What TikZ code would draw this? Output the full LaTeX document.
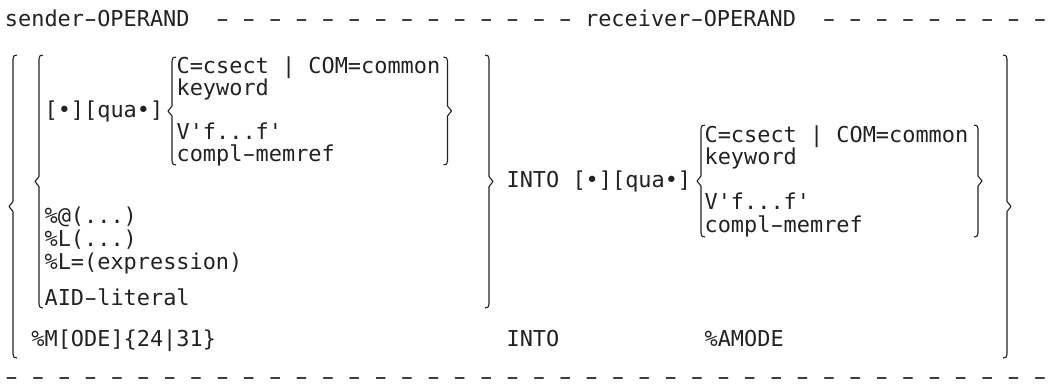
\documentclass[tikz,border=0pt]{standalone}
\usepackage{fontspec}
\usepackage{graphicx}
\newfontfamily\mono{DejaVu Sans Mono}
\definecolor{ink}{HTML}{222222}
\newcommand\hy{\makebox[0.602em]{\scalebox{1.7}[1]{-}}}
\newcommand\dd{\hy~}
% opening brace: x, ytop, ymid, ybot
\newcommand\obrc[4]{%
 \draw[brk] ({#1+4},#2) .. controls ({#1+1},#2) and (#1,{#2+1}) .. (#1,{#2+4}) -- (#1,{#3-5}) -- ({#1-4},#3) -- (#1,{#3+5}) -- (#1,{#4-4}) .. controls (#1,{#4-1}) and ({#1+1},#4) .. ({#1+4},#4);}
% closing brace: x, ytop, ymid, ybot
\newcommand\cbrc[4]{%
 \draw[brk] ({#1-4},#2) .. controls ({#1-1},#2) and (#1,{#2+1}) .. (#1,{#2+4}) -- (#1,{#3-5}) -- ({#1+4},#3) -- (#1,{#3+5}) -- (#1,{#4-4}) .. controls (#1,{#4-1}) and ({#1-1},#4) .. ({#1-4},#4);}
\newcommand\cx[1]{5+#1*13.2}
\begin{document}
\begin{tikzpicture}[x=1pt,y=-1pt,
  txt/.style={anchor=base west,inner sep=0pt,outer sep=0pt,text=ink,
    font=\mono\fontsize{21.9}{26}\selectfont},
  brk/.style={draw=ink,line width=1.1pt,line join=round}]
\useasboundingbox (0,0) rectangle (1062,391);
% header
\node[txt] (head) at ({\cx{0}},26) {sender\hy OPERAND~~\dd\dd\dd\dd\dd\dd\dd\dd\dd\dd\dd\dd\dd\hy~receiver\hy OPERAND~~\dd\dd\dd\dd\dd\dd\dd\dd\hy};
% left inner group
\node[txt] (q1) at ({\cx{3}},117) {[•][qua•]};
\node[txt] (c1) at ({\cx{13}},73) {C=csect | COM=common};
\node[txt] (k1) at ({\cx{13}},95) {keyword};
\node[txt] (v1) at ({\cx{13}},139) {V'f...f'};
\node[txt] (m1) at ({\cx{13}},161) {compl\hy memref};
\node[txt] (a1) at ({\cx{3}},223) {\%@(...)};
\node[txt] (a2) at ({\cx{3}},246) {\%L(...)};
\node[txt] (a3) at ({\cx{3}},269) {\%L=(expression)};
\node[txt] (a4) at ({\cx{3}},305) {AID\hy literal};
% receiver
\node[txt] (into1) at ({\cx{38}},187) {INTO [•][qua•]};
\node[txt] (c2) at ({\cx{53}},142) {C=csect | COM=common};
\node[txt] (k2) at ({\cx{53}},164.5) {keyword};
\node[txt] (v2) at ({\cx{53}},209.5) {V'f...f'};
\node[txt] (m2) at ({\cx{53}},232) {compl\hy memref};
% mode line
\node[txt] (mode) at ({\cx{2}},346) {\%M[ODE]\{24|31\}};
\node[txt] (into2) at ({\cx{38}},346) {INTO};
\node[txt] (amode) at ({\cx{53}},346) {\%AMODE};
% bottom rule
\node[txt] (foot) at ({\cx{0}},384) {\dd\dd\dd\dd\dd\dd\dd\dd\dd\dd\dd\dd\dd\dd\dd\dd\dd\dd\dd\dd\dd\dd\dd\dd\dd\dd\dd\dd\dd\dd\dd\dd\dd\dd\dd\dd\dd\dd\dd\hy};
% braces
\obrc{13}{55}{206.5}{358}
\obrc{39}{55}{181.5}{308}
\obrc{172}{57}{111}{165}
\cbrc{447.5}{57}{111}{165}
\cbrc{489}{55}{181.5}{308}
\obrc{701}{125}{181}{237}
\cbrc{978}{125}{181}{237}
\cbrc{1007}{55}{206.5}{358}
\end{tikzpicture}
\end{document}
